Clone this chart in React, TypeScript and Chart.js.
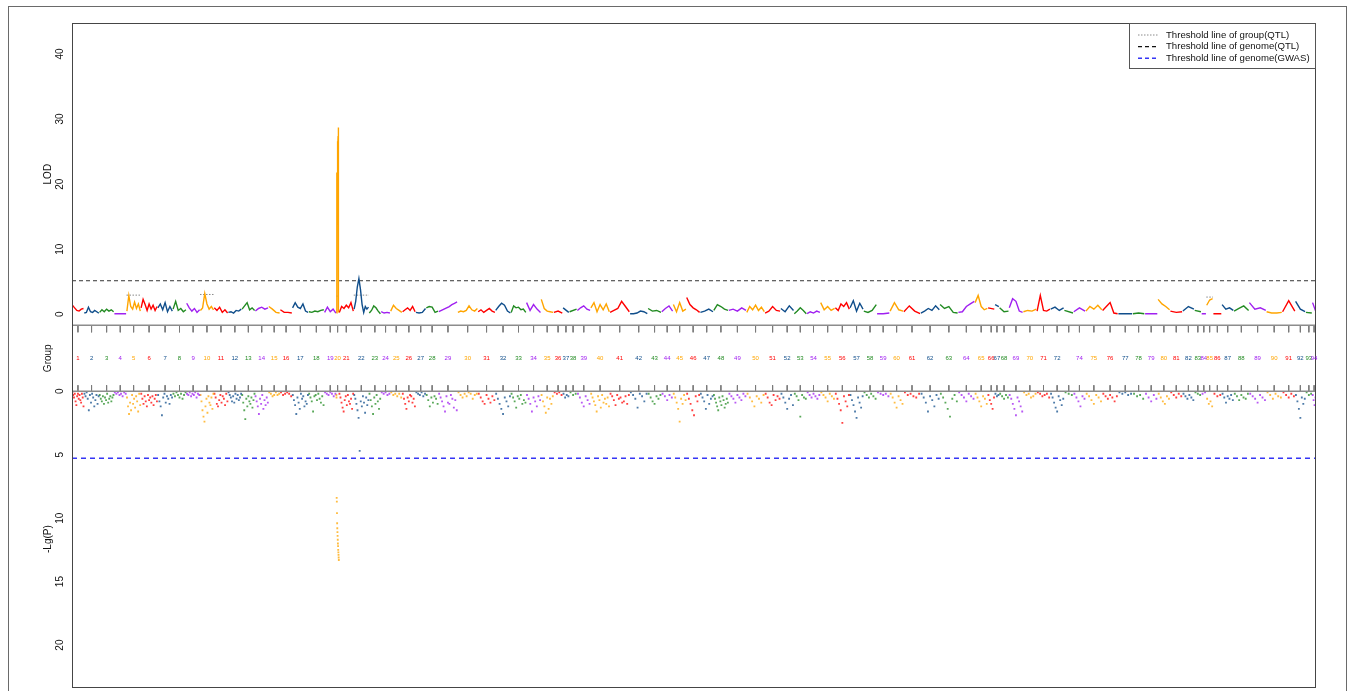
import React, { useEffect, useRef } from "react";
import { Chart, registerables } from "chart.js";

Chart.register(...registerables);

const FONT = '"Liberation Sans", Arial, Helvetica, sans-serif';

// Linkage groups (labels shown in the "Group" band) and their lengths (cM)
const GROUP_NAMES = [
  "1","2","3","4","5","6","7","8","9","10","11","12","13","14","15","16","17","18","19","20",
  "21","22","23","24","25","26","27","28","29","30","31","32","33","34","35","36","37","38","39","40",
  "41","42","43","44","45","46","47","48","49","50","51","52","53","54","55","56","57","58","59","60",
  "61","62","63","64","65","66","67","68","69","70","71","72","73","74","75","76","77","78","79","80",
  "81","82","83","84","85","86","87","88","89","90","91","92","93","94",
];
const HIDDEN_LABELS = ["73"];

const GROUP_LENGTHS = [
  11.9, 15.3, 14.8, 12.5, 14.2, 16.8, 15.2, 13.6, 13.7, 13.9,
  14.1, 13.7, 13.3, 13.4, 11.6, 12.2, 16.3, 15.7, 12.1, 2.6,
  14.8, 15.2, 11.9, 9.5, 11.9, 13.3, 10.4, 12.5, 19.1, 20.3,
  17.5, 15.5, 15.4, 14.7, 12.6, 9.2, 6.5, 7.8, 13.5, 19.2,
  20, 18, 13.7, 11.6, 13.3, 13.7, 13.4, 15, 18, 18.3,
  15.8, 13.4, 12.8, 13.6, 14.7, 14.7, 13.7, 13.3, 13, 13.8,
  17, 19.2, 18.3, 16.7, 13, 7, 4.5, 9.7, 14.1, 13.7,
  13.6, 13.7, 9.4, 12.1, 16.7, 15.8, 14.5, 12.2, 13, 12.3,
  12.5, 11.8, 7, 5, 6.7, 8.7, 12, 15.3, 17.2, 16,
  13, 10.3, 6.7, 3.8,
];

const GROUP_COLORS = ["#FF0000", "#104E8B", "#228B22", "#A020F0", "#FFA500"];
const POINT_COLORS = [
  "rgba(255,0,0,0.75)",
  "rgba(16,78,139,0.75)",
  "rgba(34,139,34,0.75)",
  "rgba(160,32,240,0.75)",
  "rgba(255,165,0,0.75)",
];

// LOD profile per linkage group (QTL interval mapping)
const LOD_VALUES = [
  [1.4, 1.0, 0.6, 0.5, 0.8, 0.9],
  [0.2, 0.3, 1.1, 0.4, 0.3, 0.6, 0.4, 0.2],
  [0.3, 0.7, 0.4, 0.8, 0.5, 0.7, 0.4],
  [0.1, 0.1, 0.1, 0.1],
  [0.5, 2.9, 1.2, 0.8, 1.9, 0.9, 1.6, 0.5],
  [1.0, 2.3, 1.5, 0.6, 1.6, 0.8, 1.4, 0.6, 1.2],
  [1.0, 1.6, 0.7, 1.8, 0.4, 1.2, 0.5],
  [0.8, 2.0, 0.6, 0.9, 0.4, 0.7],
  [1.7, 1.0, 0.5, 0.9, 0.3, 0.7],
  [0.6, 1.0, 3.2, 1.6, 0.8, 1.2, 0.7],
  [1.0, 0.6, 1.1, 0.3, 0.7, 0.2],
  [0.3, 0.4, 0.2, 0.6, 0.5, 0.8],
  [0.8, 1.3, 1.8, 0.7, 1.0, 0.6],
  [0.5, 0.9, 1.1, 0.8, 1.0],
  [1.2, 0.8, 0.3, 0.2],
  [0.7, 0.3, 0.3, 0.2],
  [1.0, 1.8, 1.1, 0.9, 1.6, 0.5, 0.3],
  [0.4, 0.3, 0.5, 0.4, 0.6, 0.7],
  [0.3, 1.1, 0.4, 0.8, 0.2],
  [0.2, 19.6, 20.6, 19.9, 21.8, 20.7, 23.0, 21.9, 24.3, 23.1, 25.5, 24.4, 26.6, 25.3, 27.4, 26.2, 28.7, 27.1, 19.8, 0.3],
  [0.3, 1.2, 0.9, 1.4, 1.0, 1.8, 0.5],
  [0.8, 2.0, 4.2, 5.5, 3.8, 1.5, 0.3, 1.2, 0.8, 1.1],
  [0.2, 0.6, 1.3, 1.0, 0.5, 0.1],
  [0.4, 0.2, 0.3, 0.2],
  [0.5, 1.4, 0.9, 0.6, 0.3],
  [0.4, 0.7, 1.0, 0.6, 1.2, 0.4],
  [0.3, 0.2, 0.3, 0.9],
  [1.0, 1.2, 1.1, 0.3, 0.5],
  [0.4, 0.6, 0.8, 1.0, 1.2, 1.5, 1.7, 1.9],
  [0.3, 0.5, 0.4, 0.6, 1.3, 0.7, 0.5, 0.9],
  [0.4, 0.7, 0.3, 0.6, 0.9, 0.5, 0.3],
  [0.6, 1.2, 1.7, 1.4, 0.5, 0.2],
  [0.3, 1.3, 1.0, 1.1, 0.7, 0.8, 0.3],
  [1.8, 0.6, 1.5, 0.8, 0.3],
  [2.3, 0.9, 0.5, 0.4, 0.3],
  [0.3, 0.5, 0.2],
  [1.0, 0.3],
  [0.4, 0.8],
  [0.6, 1.0, 1.3, 0.8, 0.6],
  [1.0, 1.8, 0.4, 1.5, 0.7, 1.6, 0.4],
  [0.3, 0.6, 0.9, 2.0, 1.2, 0.4],
  [0.1, 0.1, 0.2, 0.5, 0.4, 0.1],
  [0.9, 0.5, 0.6, 0.3],
  [0.4, 0.9, 1.3, 0.5],
  [1.5, 0.4, 1.8, 0.5, 0.8],
  [2.6, 1.5, 1.0, 0.7, 0.3],
  [0.3, 0.5, 0.8, 0.4],
  [0.6, 1.5, 1.2, 0.8, 0.6],
  [0.6, 0.8, 0.5, 1.0, 0.6],
  [0.3, 1.2, 0.7, 1.4, 0.6, 1.1, 0.4],
  [0.2, 0.5, 1.2, 0.6, 0.5],
  [0.9, 0.4, 1.3, 0.6],
  [0.1, 0.5, 1.0, 0.6, 0.1],
  [0.1, 0.4, 0.2, 0.5, 0.3],
  [1.8, 0.7, 1.2, 0.6, 0.9],
  [1.0, 0.6, 1.6, 1.2, 1.8, 0.8],
  [1.0, 2.1, 0.5, 1.7, 0.8],
  [0.5, 0.3, 0.6, 1.5],
  [0.1, 0.1, 0.2],
  [0.5, 1.8, 0.7, 0.5],
  [0.4, 1.3, 0.5, 0.1],
  [0.2, 0.5, 0.9, 0.6, 1.3, 0.7],
  [1.5, 0.9, 1.2, 0.3, 0.2],
  [0.3, 0.4, 1.2, 1.6, 2.0],
  [1.8, 2.9, 1.2, 0.7, 0.9],
  [1.0, 0.8],
  [1.5, 1.2],
  [1.0, 0.4, 0.5],
  [1.0, 2.4, 2.0, 0.5, 0.3],
  [0.4, 0.6, 0.5, 0.8],
  [0.5, 2.9, 0.6, 0.5, 0.8],
  [0.8, 1.1, 0.6, 1.0],
  [0.6, 0.2],
  [0.4, 1.0, 0.5],
  [0.5, 1.2, 0.8, 1.4, 0.7],
  [0.6, 1.2, 1.8, 0.2, 0.1],
  [0.1, 0.1, 0.1],
  [0.1, 0.2, 0.1],
  [0.1, 0.1],
  [2.3, 1.6, 1.2, 0.7],
  [0.5, 0.3, 0.4],
  [0.5, 1.2, 0.8],
  [0.6, 0.4],
  [0.1, 0.1],
  [1.4, 2.2, 2.4],
  [0.1, 0.1],
  [1.5, 0.8, 1.0, 0.6],
  [0.5, 0.9, 1.3, 0.6],
  [1.8, 0.8, 1.0, 0.6],
  [0.4, 0.2, 0.2, 0.3],
  [0.4, 2.1, 0.5],
  [2.0, 0.8, 0.4],
  [0.3, 0.2],
  [1.8, 0.5],
];

// -Lg(P) of GWAS markers per linkage group
const GWAS_VALUES = [
  [0.1, 0.3, 0.5, 0.2, 0.8, 1.1, 0.4, 0.2, 0.6, 0.3, 0.7, 0.9, 0.2, 0.5, 1.2],
  [0.2, 0.4, 0.1, 0.6, 1.5, 0.3, 0.9, 0.2, 0.5, 1.2, 0.7, 0.3, 1.0, 0.4],
  [0.3, 0.6, 0.8, 0.4, 1.0, 0.5, 0.7, 0.2, 0.9, 0.6, 0.4, 0.8, 0.5, 0.3],
  [0.1, 0.2, 0.1, 0.3, 0.2, 0.4, 0.1, 0.2],
  [0.5, 1.2, 1.8, 0.9, 1.5, 0.3, 1.0, 0.6, 1.3, 0.4, 0.8, 1.6, 0.2, 1.1],
  [0.2, 0.6, 1.0, 0.4, 0.8, 1.2, 0.3, 0.7, 0.5, 0.9, 0.4, 1.1, 0.6, 0.3, 0.8],
  [0.3, 0.8, 1.2, 1.9, 0.5, 0.2, 0.9, 0.4, 0.6, 1.0, 0.3, 0.5],
  [0.2, 0.4, 0.1, 0.3, 0.5, 0.2, 0.6, 0.3, 0.1],
  [0.2, 0.3, 0.1, 0.4, 0.2, 0.3, 0.1, 0.5, 0.2, 0.3],
  [0.3, 0.8, 1.5, 2.0, 2.4, 1.2, 0.6, 1.7, 0.4, 0.9, 1.1, 0.5, 1.4, 0.2],
  [0.2, 0.5, 1.0, 1.2, 0.7, 0.3, 0.9, 0.4, 0.6, 1.1, 0.2, 0.8],
  [0.1, 0.3, 0.5, 0.8, 0.4, 0.9, 0.2, 0.6, 0.3, 0.7, 0.5, 0.2],
  [0.3, 0.9, 1.5, 2.2, 0.6, 1.2, 0.4, 0.8, 1.0, 0.5, 1.3, 0.7, 0.2],
  [0.4, 0.8, 1.2, 1.8, 0.6, 1.0, 0.3, 1.4, 0.7, 1.1, 0.5, 0.9],
  [0.1, 0.2, 0.4, 0.3, 0.1, 0.3, 0.2],
  [0.1, 0.3, 0.2, 0.1, 0.2, 0.4],
  [0.3, 0.7, 1.1, 1.8, 0.5, 0.9, 1.4, 0.2, 0.6, 0.4, 1.2, 0.8, 1.0, 0.3],
  [0.2, 0.5, 0.8, 1.6, 0.4, 0.3, 0.7, 0.2, 0.6, 0.9, 0.4, 1.1],
  [0.1, 0.2, 0.3, 0.1, 0.2, 0.4, 0.2],
  [0.3, 0.5, 8.4, 8.7, 9.6, 10.4, 10.8, 11.1, 11.4, 11.7, 12.0, 12.2, 12.5, 12.7, 12.9, 13.1, 13.3],
  [0.2, 0.5, 0.9, 1.3, 1.6, 0.7, 0.4, 1.1, 0.3, 0.8, 1.0, 0.6, 1.4, 0.2],
  [0.3, 0.6, 1.0, 1.5, 2.1, 4.7, 0.8, 1.2, 0.4, 0.9, 1.7, 0.5, 1.1, 0.7],
  [0.2, 0.7, 1.2, 1.8, 0.5, 1.0, 0.3, 0.8, 1.4, 0.6],
  [0.1, 0.2, 0.1, 0.3, 0.2],
  [0.1, 0.3, 0.2, 0.4, 0.2, 0.5],
  [0.2, 0.6, 1.0, 1.4, 0.5, 0.8, 0.3, 0.4, 0.9, 0.6, 1.2],
  [0.1, 0.2, 0.3, 0.1, 0.4, 0.2],
  [0.3, 0.7, 1.2, 0.5, 0.9, 0.4, 0.6, 1.0],
  [0.2, 0.5, 0.8, 1.2, 1.6, 0.4, 0.9, 1.0, 0.3, 0.6, 1.3, 0.7, 1.5],
  [0.1, 0.3, 0.5, 0.2, 0.4, 0.1, 0.2, 0.6, 0.3, 0.2],
  [0.2, 0.5, 0.8, 1.0, 0.3, 0.6, 0.9, 0.4, 0.7],
  [0.2, 0.6, 1.0, 1.4, 1.8, 0.5, 0.8, 1.2, 0.4],
  [0.2, 0.5, 0.8, 1.3, 0.4, 0.6, 0.3, 1.0, 0.7, 0.9],
  [0.3, 0.6, 1.0, 1.6, 0.5, 0.8, 1.2, 0.4, 0.7],
  [0.3, 0.8, 1.2, 1.7, 0.5, 1.4, 0.6, 1.0, 0.4],
  [0.1, 0.2, 0.1, 0.3],
  [0.2, 0.5, 0.3, 0.4],
  [0.1, 0.3, 0.2],
  [0.2, 0.5, 0.9, 1.2, 0.4, 0.7, 1.0],
  [0.2, 0.5, 0.8, 1.1, 1.6, 0.4, 0.7, 1.3, 0.3, 0.9, 0.6, 1.0, 0.5, 1.2],
  [0.2, 0.4, 0.7, 1.1, 0.3, 0.6, 0.5, 0.9, 0.8, 0.4, 1.0, 0.3],
  [0.1, 0.3, 0.6, 1.3, 0.2, 0.4, 0.8, 0.2],
  [0.2, 0.5, 0.8, 1.0, 0.4, 0.6, 0.3],
  [0.2, 0.4, 0.7, 0.3, 0.5],
  [0.2, 0.5, 0.9, 1.4, 2.4, 0.6, 1.0, 0.3, 0.7],
  [0.2, 0.6, 1.0, 1.5, 1.9, 0.4, 0.8, 0.3],
  [0.2, 0.5, 0.8, 1.4, 0.3, 1.0, 0.6, 0.4],
  [0.3, 0.6, 0.9, 1.2, 1.5, 0.5, 0.8, 1.1, 0.4, 0.7, 1.3, 1.0, 0.6, 0.9],
  [0.2, 0.4, 0.6, 0.9, 0.3, 0.5, 0.7, 0.2, 0.4],
  [0.2, 0.5, 0.8, 1.2, 0.4, 0.6, 0.9, 0.3],
  [0.2, 0.5, 0.9, 1.1, 0.3, 0.7, 0.4, 0.6],
  [0.2, 0.5, 0.9, 1.4, 0.6, 0.3, 1.1],
  [0.2, 0.4, 0.7, 2.0, 0.3, 0.5, 0.6],
  [0.1, 0.3, 0.5, 0.2, 0.4, 0.6, 0.3],
  [0.1, 0.3, 0.5, 0.8, 0.2, 0.4, 0.6],
  [0.2, 0.6, 1.0, 1.5, 2.5, 0.4, 0.8, 1.2, 0.3],
  [0.3, 0.7, 1.1, 1.6, 2.1, 0.5, 0.9, 1.3, 0.4],
  [0.1, 0.3, 0.5, 0.2, 0.4, 0.6],
  [0.1, 0.2, 0.3, 0.2, 0.4],
  [0.2, 0.5, 0.9, 1.3, 0.4, 0.7, 1.0],
  [0.1, 0.3, 0.2, 0.4, 0.5, 0.2],
  [0.2, 0.5, 0.9, 1.6, 0.4, 0.7, 1.2, 0.3, 0.6],
  [0.2, 0.5, 0.9, 1.4, 2.0, 0.6, 0.3, 0.8],
  [0.1, 0.3, 0.5, 0.8, 0.2, 0.4, 0.6],
  [0.2, 0.5, 0.8, 1.2, 0.4, 0.6, 1.0],
  [0.3, 0.7, 1.0, 1.4, 0.5],
  [0.2, 0.4, 0.3],
  [0.2, 0.4, 0.6, 0.3, 0.5],
  [0.3, 0.6, 1.0, 1.4, 1.9, 0.5, 0.8, 1.2, 1.6],
  [0.1, 0.3, 0.2, 0.5, 0.4, 0.2],
  [0.1, 0.2, 0.4, 0.3, 0.2, 0.5],
  [0.2, 0.5, 0.9, 1.3, 1.6, 0.4, 0.7, 1.1, 0.6],
  [0.1, 0.2, 0.3],
  [0.2, 0.5, 0.8, 1.2, 0.4, 0.6],
  [0.2, 0.4, 0.7, 1.0, 0.3, 0.5, 0.8],
  [0.2, 0.4, 0.6, 0.3, 0.5, 0.8, 0.4],
  [0.1, 0.2, 0.1, 0.3, 0.2],
  [0.2, 0.4, 0.3, 0.6],
  [0.2, 0.5, 0.8, 0.3, 0.6],
  [0.2, 0.5, 0.8, 1.0, 0.4, 0.6],
  [0.1, 0.3, 0.5, 0.2, 0.4],
  [0.2, 0.4, 0.6, 0.3, 0.5, 0.7],
  [0.1, 0.2, 0.3],
  [0.2, 0.1],
  [0.6, 1.0, 0.8, 1.2],
  [0.2, 0.4, 0.3],
  [0.2, 0.5, 0.9, 0.4, 0.6, 0.3, 0.7],
  [0.2, 0.4, 0.7, 0.3, 0.5, 0.6, 0.2],
  [0.2, 0.4, 0.6, 0.9, 0.3, 0.5, 0.7],
  [0.1, 0.3, 0.6, 0.2, 0.4, 0.5],
  [0.1, 0.3, 0.5, 0.2, 0.4],
  [0.3, 0.8, 1.4, 2.1, 0.5, 1.0, 0.6],
  [0.1, 0.3, 0.2],
  [0.3, 0.7, 1.1, 0.5],
];

// Group-wise QTL thresholds (short dotted segments)
const QTL_GROUPS = [5, 10, 20, 22, 85];
const QTL_GROUP_LOD = [2.95, 3.05, 2.8, 2.95, 2.65];

// Genome-wide thresholds
const QTL_GENOME_LOD = 5.16;
const GWAS_GENOME_LGP = 5.28;

const LOD_TICKS = [0, 10, 20, 30, 40];
const LGP_TICKS = [0, 5, 10, 15, 20];

const LEGEND_LABELS = [
  "Threshold line of group(QTL)",
  "Threshold line of genome(QTL)",
  "Threshold line of genome(GWAS)",
];

// derived positions
const GROUP_STARTS: number[] = [];
let acc = 0;
GROUP_LENGTHS.forEach((l) => {
  GROUP_STARTS.push(acc);
  acc += l;
});
const TOTAL_LENGTH = acc;
const GROUP_CENTERS = GROUP_STARTS.map((s, i) => s + GROUP_LENGTHS[i] / 2);

function buildDatasets() {
  const sets: any[] = [];

  // LOD curves
  LOD_VALUES.forEach((vals, g) => {
    const s = GROUP_STARTS[g];
    const w = GROUP_LENGTHS[g];
    const inset = Math.min(0.4, w * 0.1);
    const n = vals.length;
    sets.push({
      data: vals.map((v, i) => ({
        x: n === 1 ? s + w / 2 : s + inset + ((w - 2 * inset) * i) / (n - 1),
        y: v,
      })),
      xAxisID: "x",
      yAxisID: "yLOD",
      showLine: true,
      borderColor: GROUP_COLORS[g % 5],
      backgroundColor: GROUP_COLORS[g % 5],
      borderWidth: 1.4,
      pointRadius: 0,
      tension: 0,
    });
  });

  // group thresholds
  QTL_GROUPS.forEach((grp, k) => {
    const g = grp - 1;
    sets.push({
      data: [
        { x: GROUP_STARTS[g], y: QTL_GROUP_LOD[k] },
        { x: GROUP_STARTS[g] + GROUP_LENGTHS[g], y: QTL_GROUP_LOD[k] },
      ],
      yAxisID: "yLOD",
      showLine: true,
      borderColor: "#8a8a8a",
      borderWidth: 1,
      borderDash: [1.5, 1.5],
      pointRadius: 0,
    });
  });

  // genome QTL threshold
  sets.push({
    data: [
      { x: 0, y: QTL_GENOME_LOD },
      { x: TOTAL_LENGTH, y: QTL_GENOME_LOD },
    ],
    yAxisID: "yLOD",
    showLine: true,
    borderColor: "#333333",
    borderWidth: 1,
    borderDash: [4, 3],
    pointRadius: 0,
  });

  // GWAS points
  GWAS_VALUES.forEach((vals, g) => {
    const s = GROUP_STARTS[g];
    const w = GROUP_LENGTHS[g];
    const n = vals.length;
    sets.push({
      data: vals.map((v, i) => ({ x: s + (w * (i + 0.5)) / n, y: v })),
      yAxisID: "yP",
      showLine: false,
      pointStyle: "rect",
      pointRadius: 1.3,
      borderWidth: 0,
      backgroundColor: POINT_COLORS[g % 5],
    });
  });

  // genome GWAS threshold
  sets.push({
    data: [
      { x: 0, y: GWAS_GENOME_LGP },
      { x: TOTAL_LENGTH, y: GWAS_GENOME_LGP },
    ],
    yAxisID: "yP",
    showLine: true,
    borderColor: "#3535F5",
    borderWidth: 1.6,
    borderDash: [5, 4],
    pointRadius: 0,
  });

  // group tick marks in the Group band
  const tickData: any[] = [];
  GROUP_CENTERS.forEach((c) => {
    tickData.push({ x: c, y: 1 }, { x: c, y: 0.894 }, { x: c, y: null });
    tickData.push({ x: c, y: 0.09 }, { x: c, y: 0 }, { x: c, y: null });
  });
  sets.push({
    data: tickData,
    yAxisID: "yGroup",
    showLine: true,
    spanGaps: false,
    borderColor: "#7a7a7a",
    borderWidth: 1,
    pointRadius: 0,
  });

  return sets;
}

const decorPlugin = {
  id: "decor",
  beforeDraw(chart: any) {
    const ctx = chart.ctx;
    ctx.save();
    ctx.fillStyle = "#ffffff";
    ctx.fillRect(0, 0, chart.width, chart.height);
    ctx.strokeStyle = "#6a6a6a";
    ctx.lineWidth = 1;
    ctx.strokeRect(8.5, 6.5, 1338, 720);
    ctx.restore();
  },
  afterDatasetsDraw(chart: any) {
    const { ctx, chartArea: ca, scales } = chart;
    const xs = scales.x;
    const yL = scales.yLOD;
    const yG = scales.yGroup;
    const yP = scales.yP;
    ctx.save();
    // panel separators
    ctx.strokeStyle = "#8c8c8c";
    ctx.lineWidth = 1.5;
    ctx.beginPath();
    ctx.moveTo(ca.left, yL.bottom);
    ctx.lineTo(ca.right, yL.bottom);
    ctx.moveTo(ca.left, yP.top);
    ctx.lineTo(ca.right, yP.top);
    ctx.stroke();
    // plot box
    ctx.strokeStyle = "#454545";
    ctx.lineWidth = 1;
    ctx.strokeRect(ca.left + 0.5, ca.top + 0.5, ca.right - ca.left - 1, ca.bottom - ca.top);
    // group labels
    ctx.font = `6px ${FONT}`;
    ctx.textAlign = "center";
    ctx.textBaseline = "middle";
    const yMid = yG.getPixelForValue(0.5);
    GROUP_NAMES.forEach((name, i) => {
      if (HIDDEN_LABELS.includes(name)) return;
      ctx.fillStyle = GROUP_COLORS[i % 5];
      ctx.fillText(name, xs.getPixelForValue(GROUP_CENTERS[i]), yMid);
    });
    ctx.restore();
  },
  afterDraw(chart: any) {
    const { ctx, chartArea: ca } = chart;
    ctx.save();
    const right = ca.right;
    const left = 1129;
    const top = ca.top;
    const rowH = 11.6;
    const h = 45;
    ctx.fillStyle = "#ffffff";
    ctx.fillRect(left, top, right - left, h);
    ctx.strokeStyle = "#555555";
    ctx.lineWidth = 1;
    ctx.strokeRect(left + 0.5, top + 0.5, right - left - 1, h);
    const styles = [
      { color: "#8a8a8a", dash: [1.5, 1.5], w: 1 },
      { color: "#111111", dash: [4, 3], w: 1.2 },
      { color: "#3535F5", dash: [4, 3], w: 1.4 },
    ];
    ctx.font = `9.6px ${FONT}`;
    ctx.textAlign = "left";
    ctx.textBaseline = "middle";
    LEGEND_LABELS.forEach((lab, i) => {
      const y = top + 12 + i * rowH;
      const st = styles[i];
      ctx.strokeStyle = st.color;
      ctx.lineWidth = st.w;
      ctx.setLineDash(st.dash);
      ctx.beginPath();
      ctx.moveTo(left + 9, y);
      ctx.lineTo(left + 29, y);
      ctx.stroke();
      ctx.setLineDash([]);
      ctx.fillStyle = "#111111";
      ctx.fillText(lab, 1166, y);
    });
    ctx.restore();
  },
};

function yAxisBase(extra: any) {
  return {
    type: "linear",
    position: "left",
    stack: "panels",
    offset: false,
    grid: { display: false, drawTicks: false },
    border: { display: true, color: "#454545", width: 1 },
    ...extra,
  };
}

export default function App() {
  const canvasRef = useRef<HTMLCanvasElement | null>(null);

  useEffect(() => {
    if (!canvasRef.current) return;
    Chart.defaults.font.family = FONT;
    const tickFont = { family: FONT, size: 10 };
    const titleFont = { family: FONT, size: 10 };
    const chart = new Chart(canvasRef.current, {
      type: "scatter",
      data: { datasets: buildDatasets() },
      plugins: [decorPlugin],
      options: {
        responsive: false,
        animation: false,
        events: [],
        layout: { padding: { left: 0, right: 40, top: 23, bottom: 2.5 } },
        plugins: {
          legend: { display: false },
          tooltip: { enabled: false },
        },
        scales: {
          x: {
            type: "linear",
            min: 0,
            max: TOTAL_LENGTH,
            display: false,
          },
          yLOD: yAxisBase({
            weight: 3,
            stackWeight: 303,
            min: -1.686,
            max: 44.75,
            ticks: {
              color: "#111",
              font: tickFont,
              minRotation: 90,
              maxRotation: 90,
              crossAlign: "center",
              padding: 6,
            },
            afterBuildTicks: (s: any) => {
              s.ticks = LOD_TICKS.map((v) => ({ value: v }));
            },
            title: { display: true, text: "LOD", color: "#111", font: titleFont, padding: { top: 42, bottom: 0 } },
            afterFit: (s: any) => {
              s.width = 72;
              s.paddingTop = 0;
              s.paddingBottom = 0;
            },
          }),
          yGroup: yAxisBase({
            weight: 2,
            stackWeight: 66,
            min: 0,
            max: 1,
            ticks: { display: false },
            title: { display: true, text: "Group", color: "#111", font: titleFont, padding: { top: 42, bottom: 0 } },
            afterFit: (s: any) => {
              s.width = 72;
              s.paddingTop = 0;
              s.paddingBottom = 0;
            },
          }),
          yP: yAxisBase({
            weight: 1,
            stackWeight: 296.5,
            reverse: true,
            min: 0,
            max: 23.3,
            ticks: {
              color: "#111",
              font: tickFont,
              minRotation: 90,
              maxRotation: 90,
              crossAlign: "center",
              padding: 6,
            },
            afterBuildTicks: (s: any) => {
              s.ticks = LGP_TICKS.map((v) => ({ value: v }));
            },
            title: { display: true, text: "-Lg(P)", color: "#111", font: titleFont, padding: { top: 42, bottom: 0 } },
            afterFit: (s: any) => {
              s.width = 72;
              s.paddingTop = 0;
              s.paddingBottom = 0;
            },
          }),
        },
      } as any,
    });
    return () => chart.destroy();
  }, []);

  return (
    <div style={{ position: "absolute", left: 0, top: 0, width: 1356, height: 691, overflow: "hidden", background: "#fff" }}>
      <canvas ref={canvasRef} width={1356} height={691} style={{ display: "block" }} />
    </div>
  );
}
